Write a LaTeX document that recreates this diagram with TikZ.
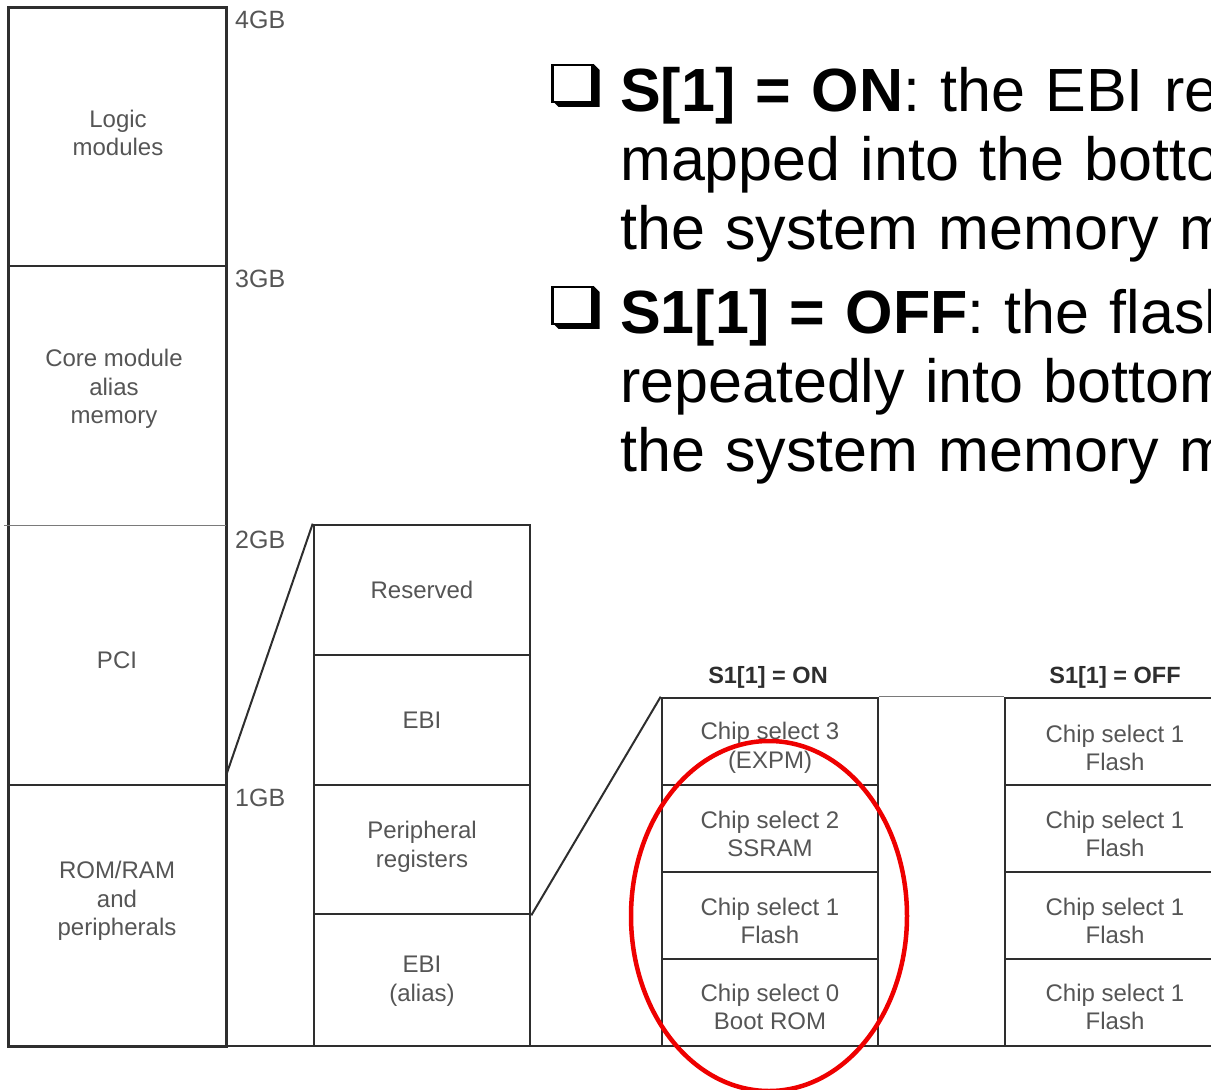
\documentclass[tikz,border=0pt]{standalone}
\usepackage{fontspec}
\setmainfont{Liberation Sans}
\usetikzlibrary{shapes.geometric}
\definecolor{linec}{HTML}{2E2E2E}
\definecolor{txtc}{HTML}{555555}
\definecolor{thinc}{HTML}{7A7A7A}
\definecolor{redc}{HTML}{EE0000}
\begin{document}
\begin{tikzpicture}[x=1pt,y=-1pt,
  area/.style={draw=none, inner sep=0pt, minimum width=217pt},
  cellbox/.style={draw=linec, line width=2.6pt, inner sep=0pt, minimum width=216pt},
  lbl/.style={text=txtc, inner sep=0pt, align=center, font=\fontsize{24}{28.5}\selectfont},
  gb/.style={text=txtc, inner sep=0pt, anchor=base west, font=\fontsize{25}{29}\selectfont},
  ttl/.style={text=linec, inner sep=0pt, anchor=base, font=\bfseries\fontsize{23.5}{27}\selectfont},
  outer/.style={draw=linec, line width=3pt},
  div/.style={draw=linec, line width=2.4pt},
  faint/.style={draw=thinc, line width=1.3pt},
  diag/.style={draw=linec, line width=2pt},
  para/.style={inner sep=0pt, anchor=base west, text width=900pt, align=left, font=\fontsize{61}{69}\selectfont},
  bbox/.style={draw=black, line width=2.2pt, fill=white, inner sep=0pt, minimum width=40pt, minimum height=37pt},
  ring/.style={draw=redc, line width=4.5pt, ellipse, inner sep=0pt, minimum width=276pt, minimum height=350pt}
]
\useasboundingbox (0,0) rectangle (1211,1090);
\clip (0,0) rectangle (1211,1090);

% ---------- left column (system memory map)
\node[area, minimum height=258pt] (logic) at (117.5,137) {};
\node[area, minimum height=259pt] (core) at (117.5,395.5) {};
\node[area, minimum height=260pt] (pci) at (117.5,655) {};
\node[area, minimum height=261pt] (rom) at (117.5,915.5) {};
\draw[outer] (logic.north west) rectangle (rom.south east);
\draw[div] (logic.south west) -- (logic.south east);
\draw[faint] ([xshift=-5pt]core.south west) -- (core.south east);
\draw[div] (pci.south west) -- (pci.south east);

\node[lbl] (logict) at (118,133) {Logic\\modules};
\node[lbl] (coret) at (114,389) {Core module\\alias\\memory};
\node[lbl] (pcit) at (117,660) {PCI};
\node[lbl] (romt) at (117,901) {ROM/RAM\\and\\peripherals};

\node[gb] (g4) at (235,28) {4GB};
\node[gb] (g3) at (235,287) {3GB};
\node[gb] (g2) at (235,548) {2GB};
\node[gb] (g1) at (235,806) {1GB};

% ---------- middle column (0-2GB)
\node[cellbox, minimum height=130pt] (res) at (422,590) {};
\node[cellbox, minimum height=130pt] (ebi) at (422,720) {};
\node[cellbox, minimum height=129pt] (per) at (422,849.5) {};
\node[cellbox, minimum height=132pt] (ebia) at (422,980) {};
\node[lbl] (rest) at (422,590) {Reserved};
\node[lbl] (ebit) at (422,720) {EBI};
\node[lbl] (pert) at (422,847) {Peripheral\\registers};
\node[lbl] (ebiat) at (422,981) {EBI\\(alias)};

% ---------- S1[1] = ON column
\node[cellbox, minimum height=87pt] (cs3) at (770,741.5) {};
\node[cellbox, minimum height=87pt] (cs2) at (770,828.5) {};
\node[cellbox, minimum height=87pt] (cs1) at (770,915.5) {};
\node[cellbox, minimum height=87pt] (cs0) at (770,1002.5) {};
\node[lbl] (cs3t) at (770,748) {Chip select 3\\(EXPM)};
\node[lbl] (cs2t) at (770,834) {Chip select 2\\SSRAM};
\node[lbl] (cs1t) at (770,921) {Chip select 1\\Flash};
\node[lbl] (cs0t) at (770,1007) {Chip select 0\\Boot ROM};
\node[ttl] (onttl) at (768,683) {S1[1] = ON};

% ---------- S1[1] = OFF column
\node[cellbox, minimum height=87pt] (off1) at (1113,741.5) {};
\node[cellbox, minimum height=87pt] (off2) at (1113,828.5) {};
\node[cellbox, minimum height=87pt] (off3) at (1113,915.5) {};
\node[cellbox, minimum height=87pt] (off4) at (1113,1002.5) {};
\node[lbl] (off1t) at (1115,748) {Chip select 1\\Flash};
\node[lbl] (off2t) at (1115,834) {Chip select 1\\Flash};
\node[lbl] (off3t) at (1115,921) {Chip select 1\\Flash};
\node[lbl] (off4t) at (1115,1007) {Chip select 1\\Flash};
\node[ttl] (offttl) at (1115,683) {S1[1] = OFF};

% ---------- connectors
\draw[diag] ([yshift=10pt]pci.south east) -- (res.north west);
\draw[diag] (per.south east) -- (cs3.north west);
\draw[faint] (cs3.north east) -- (off1.north west);
\coordinate (baseL) at (9,1046);
\coordinate (baseR) at (1211,1046);
\draw[div] (baseL) -- (baseR);

% ---------- red highlight
\node[ring] (hl) at (769,916) {};

% ---------- bullet text
\node[bbox] (bx1) at (572.5,83.5) {};
\fill[black] (bx1.north east) -- ++(6,6) -- ++(0,37) -- ++(-41,0) -- ++(-6,-6) -- (bx1.south east) -- cycle;
\node[para] (t1) at (620,111) {\textbf{S[1] = ON}: the EBI region\\mapped into the bottom\\the system memory map};

\node[bbox] (bx2) at (572.5,305.5) {};
\fill[black] (bx2.north east) -- ++(6,6) -- ++(0,37) -- ++(-41,0) -- ++(-6,-6) -- (bx2.south east) -- cycle;
\node[para] (t2) at (620,333) {\textbf{S1[1] = OFF}: the flash\\repeatedly into bottom\\the system memory map};
\end{tikzpicture}
\end{document}
